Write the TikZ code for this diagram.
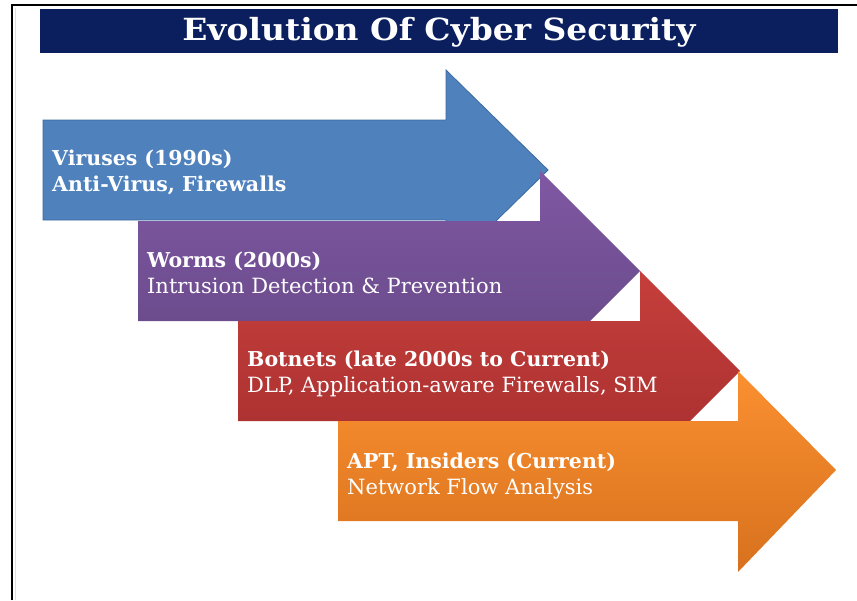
\documentclass[tikz,border=0pt]{standalone}
\usepackage{fontspec}
\setmainfont{DejaVu Serif}
\usetikzlibrary{shadings}
\definecolor{navy}{HTML}{0B1F5E}
\definecolor{blueA}{HTML}{4F81BD}
\definecolor{blueE}{HTML}{3A6A9E}
\definecolor{purT}{HTML}{7F58A3}
\definecolor{purB}{HTML}{664886}
\definecolor{redT}{HTML}{C53F3C}
\definecolor{redB}{HTML}{A62E2E}
\definecolor{orT}{HTML}{FA9030}
\definecolor{orB}{HTML}{D8711E}
\tikzset{
  x=1pt, y=-1pt,
  lbl/.style={anchor=base west, inner sep=0pt, text=white, font=\fontsize{21}{24}\selectfont},
  lblb/.style={lbl, font=\fontsize{20.5}{24}\selectfont\bfseries},
}
\begin{document}
\begin{tikzpicture}
\useasboundingbox (0,0) rectangle (857,600);
\fill[white] (0,0) rectangle (857,600);
% frame
\draw[line width=2.5pt] (12,600) -- (12,5) -- (857,5);
\draw[black!12, line width=1pt] (15,600) -- (15,8);
% title
\fill[navy] (40,9) rectangle (838,53);
\node[text=white, font=\fontsize{30.5}{34}\selectfont\bfseries, inner sep=0pt, anchor=base] (title) at (439,40) {\scalebox{1.08}[1]{Evolution Of Cyber Security}};
% arrows
\path[fill=blueA, draw=blueE, line width=0.8pt] (43,120) -- (446,120) -- (446,70) -- (548,170) -- (446,270) -- (446,220) -- (43,220) -- cycle;
\path[top color=purT, bottom color=purB] (138,221) -- (540,221) -- (540,171) -- (640,271) -- (540,371) -- (540,321) -- (138,321) -- cycle;
\path[top color=redT, bottom color=redB] (238,321) -- (640,321) -- (640,271) -- (740,371) -- (640,471) -- (640,421) -- (238,421) -- cycle;
\path[top color=orT, bottom color=orB] (338,421) -- (738,421) -- (738,371) -- (836,470) -- (738,572) -- (738,521) -- (338,521) -- cycle;
% labels
\node[lblb] (v1) at (52,165) {Viruses (1990s)};
\node[lblb] (v2) at (52,191) {Anti-Virus, Firewalls};
\node[lblb] (w1) at (147,267) {Worms (2000s)};
\node[lbl]  (w2) at (147,293) {Intrusion Detection \& Prevention};
\node[lblb] (b1) at (247,366) {Botnets (late 2000s to Current)};
\node[lbl]  (b2) at (247,392) {DLP, Application-aware Firewalls, SIM};
\node[lblb] (a1) at (347,468) {APT, Insiders (Current)};
\node[lbl]  (a2) at (347,494) {Network Flow Analysis};
\end{tikzpicture}
\end{document}
